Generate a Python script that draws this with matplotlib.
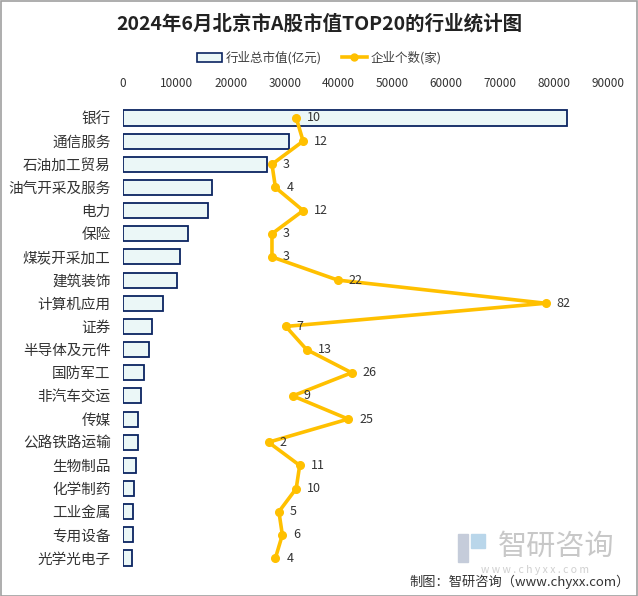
import numpy as np
import matplotlib
matplotlib.use("Agg")
from matplotlib import pyplot as plt
from matplotlib.patches import Rectangle, Patch
from matplotlib.lines import Line2D

plt.rcParams['font.family'] = ['Noto Sans CJK SC', 'DejaVu Sans']

# data
industries = ['银行', '通信服务', '石油加工贸易', '油气开采及服务', '电力', '保险',
              '煤炭开采加工', '建筑装饰', '计算机应用', '证券', '半导体及元件', '国防军工',
              '非汽车交运', '传媒', '公路铁路运输', '生物制品', '化学制药', '工业金属',
              '专用设备', '光学光电子']
market_value = [82400, 30800, 26700, 16500, 15800, 12100, 10600, 10000, 7400, 5400,
                4800, 3900, 3300, 2800, 2800, 2400, 2000, 1900, 1800, 1700]
company_count = [10, 12, 3, 4, 12, 3, 3, 22, 82, 7, 13, 26, 9, 25, 2, 11, 10, 5, 6, 4]
value_ticks = [0, 10000, 20000, 30000, 40000, 50000, 60000, 70000, 80000, 90000]

BAR_FILL = '#EBF7F7'
BAR_EDGE = '#0B2461'
LINE_COL = '#FFC000'
TXT = '#333333'

W, H = 638, 596
fig = plt.figure(figsize=(W / 100, H / 100), dpi=100)

ax = fig.add_axes([123 / W, 1 - 569.6 / H, 485 / W, 463.2 / H])
y = np.arange(len(industries))
ax.barh(y, market_value, height=0.65, color=BAR_FILL, edgecolor=BAR_EDGE, linewidth=1.3)
ax.set_ylim(len(industries) - 0.5, -0.5)
ax.set_xlim(0, 90000)
ax.set_yticks(y)
ax.set_yticklabels(industries, fontsize=10.5, color=TXT)
for s in ax.spines.values():
    s.set_visible(False)

# company counts on a hidden second x-scale
ax2 = ax.twiny()
ax2.set_xlim(-40, 100)
ax2.plot(company_count, y, color=LINE_COL, lw=2.6, marker='o', ms=5.5, zorder=3)
for c, yy in zip(company_count, y):
    ax2.annotate(str(c), (c, yy), xytext=(8, 0), textcoords='offset points',
                 ha='left', va='center', fontsize=9, color=TXT)
ax2.set_xticks([])
ax2.tick_params(axis='both', length=0, labeltop=False, labelbottom=False)
for s in ax2.spines.values():
    s.set_visible(False)

# value ticks on top (after twiny, which moves them)
ax.xaxis.set_ticks_position('top')
ax.xaxis.set_label_position('top')
ax.set_xticks(value_ticks)
ax.set_xticklabels([str(v) for v in value_ticks], fontsize=8.5, color=TXT)
ax.tick_params(axis='both', length=0)
ax.tick_params(axis='x', pad=12, labeltop=True, labelbottom=False)
ax.tick_params(axis='y', pad=9)

fig.text(0.5, 1 - 24 / H, '2024年6月北京市A股市值TOP20的行业统计图', ha='center', va='center',
         fontsize=14, fontweight='bold', color='#222222')

handles = [Patch(facecolor=BAR_FILL, edgecolor=BAR_EDGE, linewidth=1.2, label='行业总市值(亿元)'),
           Line2D([], [], color=LINE_COL, lw=2.6, marker='o', ms=5, label='企业个数(家)')]
fig.legend(handles=handles, loc='center', bbox_to_anchor=(0.5, 1 - 58 / H), ncol=2,
           frameon=False, fontsize=9, handlelength=2.0, handleheight=0.7,
           columnspacing=1.6, handletextpad=0.3, labelcolor='#404040')

# watermark
fig.patches.append(Rectangle((458 / W, 1 - 562 / H), 10 / W, 28 / H, transform=fig.transFigure,
                             color='#C5CCDA', zorder=0))
fig.patches.append(Rectangle((471 / W, 1 - 548 / H), 14 / W, 14 / H, transform=fig.transFigure,
                             color='#B9D6EA', zorder=0))
fig.text(556 / W, 1 - 547 / H, '智研咨询', ha='center', va='center', fontsize=21,
         color='#C8C8C8', zorder=0)
fig.text(535 / W, 1 - 570 / H, 'w w w . c h y x x . c o m', ha='center', va='center',
         fontsize=7.5, color='#D0D0D0', zorder=0)
fig.text(630 / W, 1 - 582 / H, '制图：智研咨询（www.chyxx.com）', ha='right', va='center',
         fontsize=9.5, color=TXT)

fig.patches.append(Rectangle((0.5 / W, 0.5 / H), 1 - 1.5 / W, 1 - 1.5 / H, transform=fig.transFigure,
                             fill=False, edgecolor='#A0A0A0', linewidth=1.2))

fig.savefig('out.png', dpi=100)
